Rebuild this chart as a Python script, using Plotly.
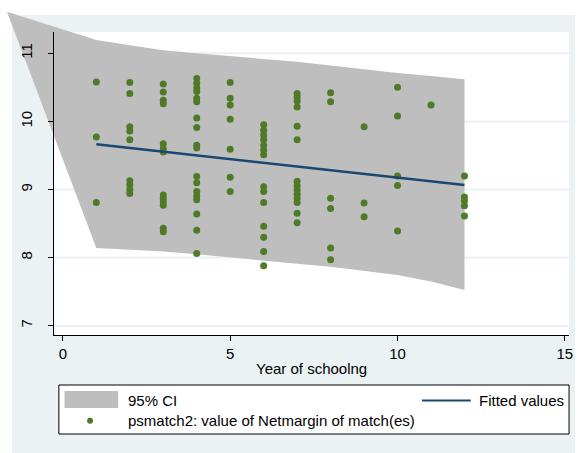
import plotly.graph_objects as go

# ---------------- data ----------------
SCHOOL_X = ([1] * 3 + [2] * 9 + [3] * 13 + [4] * 18 + [5] * 7 + [6] * 14 +
            [7] * 14 + [8] * 6 + [9] * 3 + [10] * 5 + [11] * 1 + [12] * 5)
NETMARGIN_Y = [
    10.58, 9.77, 8.81,
    10.57, 10.41, 9.92, 9.86, 9.73, 9.13, 9.07, 9.00, 8.94,
    10.55, 10.43, 10.31, 10.26, 9.67, 9.60, 9.55, 8.92, 8.87, 8.82, 8.77, 8.43, 8.38,
    10.63, 10.56, 10.49, 10.44, 10.34, 10.29, 10.05, 9.91, 9.65, 9.61, 9.19, 9.10,
    8.97, 8.91, 8.85, 8.64, 8.40, 8.06,
    10.57, 10.34, 10.24, 10.03, 9.59, 9.18, 8.97,
    9.95, 9.87, 9.80, 9.73, 9.65, 9.58, 9.51, 9.04, 8.97, 8.81, 8.46, 8.30, 8.09, 7.88,
    10.41, 10.36, 10.30, 10.21, 9.93, 9.73, 9.12, 9.05, 8.99, 8.93, 8.87, 8.81, 8.65, 8.51,
    10.42, 10.29, 8.87, 8.72, 8.14, 7.97,
    9.92, 8.80, 8.60,
    10.50, 10.08, 9.20, 9.06, 8.39,
    10.24,
    9.20, 8.89, 8.83, 8.76, 8.61,
]
FIT_X = [1, 12]
FIT_Y = [9.664, 9.066]
CI_X = [-1.67, 1, 2, 3, 4, 5, 6, 7, 8, 9, 10, 11, 12]
CI_UPPER = [11.61, 11.195, 11.12, 11.045, 11.0, 10.96, 10.92, 10.875, 10.82, 10.76, 10.71, 10.665, 10.62]
CI_LOWER = [11.61, 8.14, 8.12, 8.09, 8.05, 8.01, 7.96, 7.91, 7.865, 7.81, 7.745, 7.65, 7.525]
X_TICKS = [0, 5, 10, 15]
Y_TICKS = [7, 8, 9, 10, 11]
X_TITLE = "Year of schoolng"
LEGEND_CI = "95% CI"
LEGEND_FIT = "Fitted values"
LEGEND_PTS = "psmatch2: value of Netmargin of match(es)"

# ---------------- geometry / style ----------------
W, H = 579, 453
X0PX, XPPU = 63.3, 33.7      # pixel of x=0, pixels per unit
Y11PX, YPPU = 53.3, 68.1     # pixel of y=11, pixels per unit
PL, PR, PT, PB = 54.3, 573.0, 32.0, 335.0   # plot region in pixels

def vx(p):
    return (p - X0PX) / XPPU

def vy(p):
    return 11 - (p - Y11PX) / YPPU

def fx(p):
    return p / W

def fy(p):
    return 1 - p / H

BG = "#EAF2F3"
CI_COL = "#BEBEBE"
PT_COL = "#4F7A28"
LN_COL = "#1A476F"
FONT = "Liberation Sans, Arial, sans-serif"
FS = 15

fig = go.Figure()

# CI band on a full-figure axis pair (not clipped to the plot region)
fig.add_trace(go.Scatter(
    x=CI_X + CI_X[::-1], y=CI_UPPER + CI_LOWER[::-1],
    fill="toself", fillcolor=CI_COL, line=dict(width=0), mode="lines",
    hoverinfo="skip", showlegend=False, xaxis="x", yaxis="y"))

# points and fitted line on the visible axes
fig.add_trace(go.Scatter(
    x=SCHOOL_X, y=NETMARGIN_Y, mode="markers",
    marker=dict(color=PT_COL, size=7, line=dict(width=0)),
    showlegend=False, xaxis="x2", yaxis="y2", cliponaxis=False))
fig.add_trace(go.Scatter(
    x=FIT_X, y=FIT_Y, mode="lines", line=dict(color=LN_COL, width=2.5),
    showlegend=False, xaxis="x2", yaxis="y2"))

shapes = [
    dict(type="rect", xref="paper", yref="paper", x0=fx(12), x1=1, y0=0, y1=fy(15),
         fillcolor=BG, line=dict(width=0), layer="below"),
    dict(type="rect", xref="paper", yref="paper", x0=fx(PL), x1=fx(PR), y0=fy(PB), y1=fy(PT),
         fillcolor="white", line=dict(width=0), layer="below"),
]
for t in Y_TICKS:
    shapes.append(dict(type="line", xref="paper", yref="y2", x0=fx(PL), x1=fx(PR), y0=t, y1=t,
                       line=dict(color=BG, width=2), layer="below"))

# legend (drawn by hand, Stata style)
shapes += [
    dict(type="rect", xref="paper", yref="paper", x0=fx(59.3), x1=fx(573), y0=fy(434), y1=fy(385),
         fillcolor="white", line=dict(color="black", width=1), layer="above"),
    dict(type="rect", xref="paper", yref="paper", x0=fx(65), x1=fx(119), y0=fy(408), y1=fy(391),
         fillcolor=CI_COL, line=dict(width=0), layer="above"),
    dict(type="line", xref="paper", yref="paper", x0=fx(425), x1=fx(474), y0=fy(400.5), y1=fy(400.5),
         line=dict(color=LN_COL, width=2), layer="above"),
    dict(type="circle", xref="paper", yref="paper", x0=fx(87.7), x1=fx(93.7), y0=fy(423.7), y1=fy(417.7),
         fillcolor=PT_COL, line=dict(width=0), layer="above"),
]

annotations = [
    dict(text=X_TITLE, xref="paper", yref="paper", x=fx((PL + PR) / 2), y=fy(368),
         xanchor="center", yanchor="middle", showarrow=False, font=dict(size=FS)),
    dict(text=LEGEND_CI, xref="paper", yref="paper", x=fx(126.7), y=fy(400.5),
         xanchor="left", yanchor="middle", showarrow=False, font=dict(size=FS)),
    dict(text=LEGEND_PTS, xref="paper", yref="paper", x=fx(126.7), y=fy(420.5),
         xanchor="left", yanchor="middle", showarrow=False, font=dict(size=FS)),
    dict(text=LEGEND_FIT, xref="paper", yref="paper", x=fx(570), y=fy(400.5),
         xanchor="right", yanchor="middle", showarrow=False, font=dict(size=FS)),
]

fig.update_layout(
    width=W, height=H, autosize=False,
    margin=dict(l=0, r=0, t=0, b=0, pad=0),
    paper_bgcolor="white", plot_bgcolor="rgba(0,0,0,0)",
    font=dict(family=FONT, size=FS, color="black"),
    showlegend=False,
    xaxis=dict(domain=[0, 1], range=[vx(0), vx(W)], visible=False, fixedrange=True),
    yaxis=dict(domain=[0, 1], range=[vy(H), vy(0)], visible=False, fixedrange=True),
    xaxis2=dict(domain=[fx(PL), fx(PR)], range=[vx(PL), vx(PR)], anchor="y2",
                showgrid=False, zeroline=False, showline=True, linecolor="black", linewidth=1,
                ticks="outside", ticklen=5, tickcolor="black", tickvals=X_TICKS,
                tickfont=dict(size=FS)),
    yaxis2=dict(domain=[fy(PB), fy(PT)], range=[vy(PB), vy(PT)], anchor="x2",
                showgrid=False, zeroline=False, showline=True, linecolor="black", linewidth=1,
                ticks="outside", ticklen=5, tickcolor="black", tickvals=Y_TICKS,
                tickangle=-90, tickfont=dict(size=FS), ticklabelstandoff=10),
    shapes=shapes, annotations=annotations,
)

fig.write_html("out.html")
